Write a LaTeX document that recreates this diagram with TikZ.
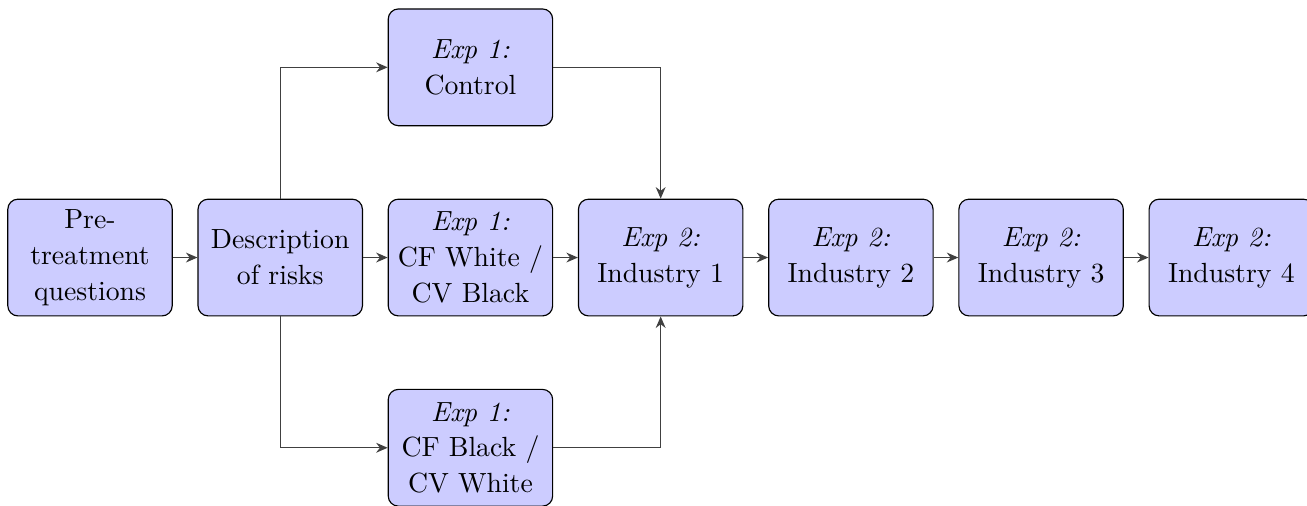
\documentclass[tikz,border=0pt]{standalone}
\usepackage{tikz}
\usetikzlibrary{arrows.meta,positioning}
\tikzset{
  stepbox/.style={
    rectangle,
    rounded corners=3.5pt,
    draw=black,
    fill=blue!20,
    align=center,
    minimum width=2cm,
    minimum height=1.42cm,
    inner sep=2pt,
    font=\fontsize{9.6}{12.4}\selectfont
  },
  steparrow/.style={
    -{Stealth[length=1.4mm,width=1.2mm]},
    draw=black!75
  }
}

\begin{document}
\begin{tikzpicture}[node distance=0.88cm and 0.3cm]
\useasboundingbox (-1.095,-3.02) rectangle (14.805,3.133);
\node[stepbox] (pre) at (0,0) {Pre-\\treatment\\questions};
\node[stepbox, right=of pre] (risks) {Description\\of risks};
\node[stepbox, right=of risks] (cfwhite) {\textit{Exp 1:}\\CF White /\\CV Black};
\node[stepbox, above=of cfwhite] (control) {\textit{Exp 1:}\\Control};
\node[stepbox, below=of cfwhite] (cfblack) {\textit{Exp 1:}\\CF Black /\\CV White};
\node[stepbox, right=of cfwhite] (ind1) {\textit{Exp 2:}\\Industry 1};
\node[stepbox, right=of ind1] (ind2) {\textit{Exp 2:}\\Industry 2};
\node[stepbox, right=of ind2] (ind3) {\textit{Exp 2:}\\Industry 3};
\node[stepbox, right=of ind3] (ind4) {\textit{Exp 2:}\\Industry 4};

\draw[steparrow] (pre) -- (risks);
\draw[steparrow] (risks) -- (cfwhite);
\draw[steparrow] (risks.north) |- (control);
\draw[steparrow] (risks.south) |- (cfblack);
\draw[steparrow] (cfwhite) -- (ind1);
\draw[steparrow] (control) -| (ind1);
\draw[steparrow] (cfblack) -| (ind1);
\draw[steparrow] (ind1) -- (ind2);
\draw[steparrow] (ind2) -- (ind3);
\draw[steparrow] (ind3) -- (ind4);
\end{tikzpicture}
\end{document}
